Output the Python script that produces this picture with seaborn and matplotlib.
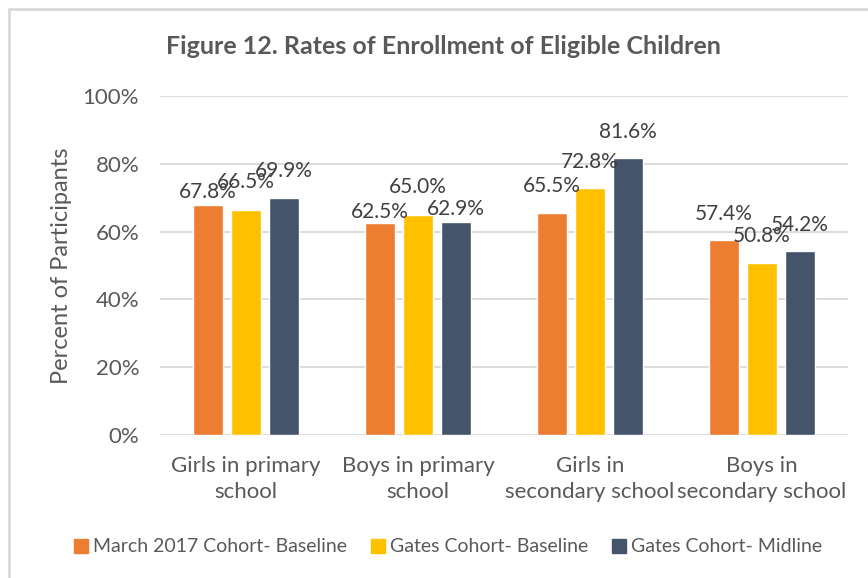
import matplotlib
matplotlib.use("Agg")
import matplotlib.pyplot as plt
from matplotlib.lines import Line2D
import pandas as pd
import seaborn as sns

categories = ["Girls in primary\nschool", "Boys in primary\nschool",
              "Girls in\nsecondary school", "Boys in\nsecondary school"]
series = ["March 2017 Cohort- Baseline", "Gates Cohort- Baseline", "Gates Cohort- Midline"]
march_2017_baseline = [67.8, 62.5, 65.5, 57.4]
gates_baseline = [66.5, 65.0, 72.8, 50.8]
gates_midline = [69.9, 62.9, 81.6, 54.2]
y_ticks = [0, 20, 40, 60, 80, 100]
colors = ["#ED7D31", "#FFC000", "#44546A"]

# gap (points) between each bar top and its value label, per series then category
label_pad = [[2, 1, 12, 12],
             [13, 13, 12, 12],
             [12, 2, 12, 12]]

rows = []
for name, vals in zip(series, [march_2017_baseline, gates_baseline, gates_midline]):
    for cat, v in zip(categories, vals):
        rows.append({"category": cat, "series": name, "value": v})
df = pd.DataFrame(rows)

sns.set_theme(style="white")
plt.rcParams["font.family"] = ["Lato", "DejaVu Sans"]

W, H = 868, 578
fig = plt.figure(figsize=(W / 100, H / 100), dpi=100)
ax = fig.add_axes([160 / W, 1 - 435 / H, (848 - 160) / W, (435 - 96) / H])

sns.barplot(data=df, x="category", y="value", hue="series",
            order=categories, hue_order=series, palette=colors,
            width=0.66, gap=0.2, saturation=1, legend=False, ax=ax,
            zorder=3)

ax.set_ylim(0, 100)
ax.set_xlim(-0.5, len(categories) - 0.5)
ax.set_yticks(y_ticks)
ax.set_yticklabels([f"{t}%" for t in y_ticks], fontsize=16, color="#595959")
ax.tick_params(axis="x", labelsize=16, labelcolor="#595959", length=0, pad=15)
ax.tick_params(axis="y", length=0, pad=15)
for lab in ax.get_xticklabels():
    lab.set_linespacing(1.38)
ax.yaxis.grid(True, color="#D9D9D9", linewidth=1.3, zorder=0)
ax.xaxis.grid(False)
for s in ax.spines.values():
    s.set_visible(False)
ax.set_xlabel("")
ax.set_ylabel("Percent of Participants", fontsize=17, color="#595959", labelpad=8)

for cont, pads in zip(ax.containers, label_pad):
    for bar, pad in zip(cont, pads):
        ax.annotate(f"{bar.get_height():.1f}%",
                    (bar.get_x() + bar.get_width() / 2, bar.get_height()),
                    xytext=(0, pad), textcoords="offset points",
                    ha="center", va="bottom", fontsize=15, color="#404040",
                    annotation_clip=False)

fig.text(443 / W, 1 - 47 / H, "Figure 12. Rates of Enrollment of Eligible Children",
         ha="center", va="center", fontsize=18, fontweight="bold", color="#595959")

handles = [plt.Rectangle((0, 0), 1, 1, color=c) for c in colors]
fig.legend(handles, series, loc="center", bbox_to_anchor=(448 / W, 1 - 547 / H),
           ncol=3, frameon=False, fontsize=14, handlelength=0.75, handleheight=0.75,
           handletextpad=0.25, columnspacing=1.2, labelcolor="#595959")

# outer chart frame (left and top edges)
fig.add_artist(Line2D([8.5 / W, 8.5 / W], [0, 1 - 8.5 / H], color="#D9D9D9", lw=2,
                      transform=fig.transFigure))
fig.add_artist(Line2D([8.5 / W, 1], [1 - 8.5 / H, 1 - 8.5 / H], color="#D9D9D9", lw=2,
                      transform=fig.transFigure))

fig.savefig("out.png", dpi=100, facecolor="white")
